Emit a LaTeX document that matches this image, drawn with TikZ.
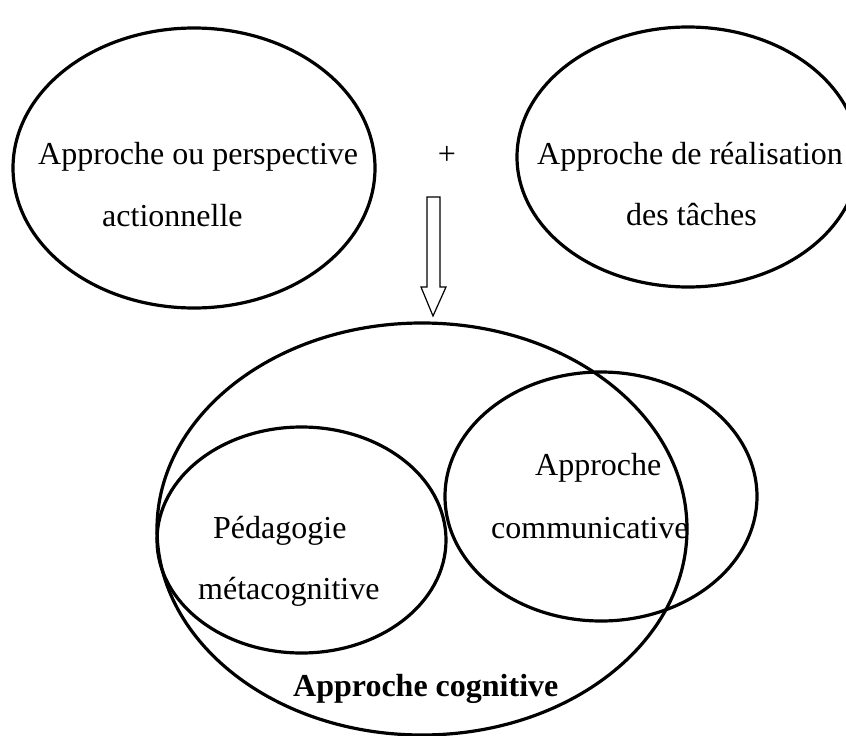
\documentclass[tikz,border=0pt]{standalone}
\usepackage{fontspec}
\setmainfont{Liberation Serif}
\usetikzlibrary{shapes.geometric}
\begin{document}
\begin{tikzpicture}[x=1pt,y=-1pt,
  ring/.style={draw,ellipse,line width=3.2pt,inner sep=0pt,outer sep=0pt},
  txt/.style={inner sep=0pt,anchor=base west,font=\fontsize{32}{38}\selectfont},
  hollowarrow/.style={draw,line width=1.2pt,fill=white,line join=miter}]
\useasboundingbox (0,0) rectangle (846,736);
% top ellipses
\node[ring,minimum width=362pt,minimum height=280pt] (e1) at (194,168) {};
\node[ring,minimum width=342pt,minimum height=260pt] (e2) at (688,157) {};
% bottom ellipses
\node[ring,minimum width=530pt,minimum height=412pt] (big) at (422,529) {};
\node[ring,minimum width=289pt,minimum height=226pt] (ped) at (301.5,540) {};
\node[ring,minimum width=312pt,minimum height=249pt] (com) at (601,496.5) {};
% arrow
\draw[hollowarrow] (427,197) -- (440,197) -- (440,287) -- (446,287) -- (433,316) -- (421,287) -- (427,287) -- cycle;
% texts
\node[txt] (t1) at (38,164) {Approche ou perspective};
\node[txt] (t2) at (102,226) {actionnelle};
\node[txt,anchor=base] (plus) at (447,164) {+};
\node[txt] (t3) at (537,164) {Approche de réalisation};
\node[txt] (t4) at (626,225) {des tâches};
\node[txt] (t5) at (535,475) {Approche};
\node[txt] (t6) at (491,538) {communicative};
\node[txt] (t7) at (213,538) {Pédagogie};
\node[txt] (t8) at (198,599) {métacognitive};
\node[txt,font=\fontsize{32}{38}\selectfont\bfseries] (t9) at (293,696) {Approche cognitive};
\end{tikzpicture}
\end{document}
